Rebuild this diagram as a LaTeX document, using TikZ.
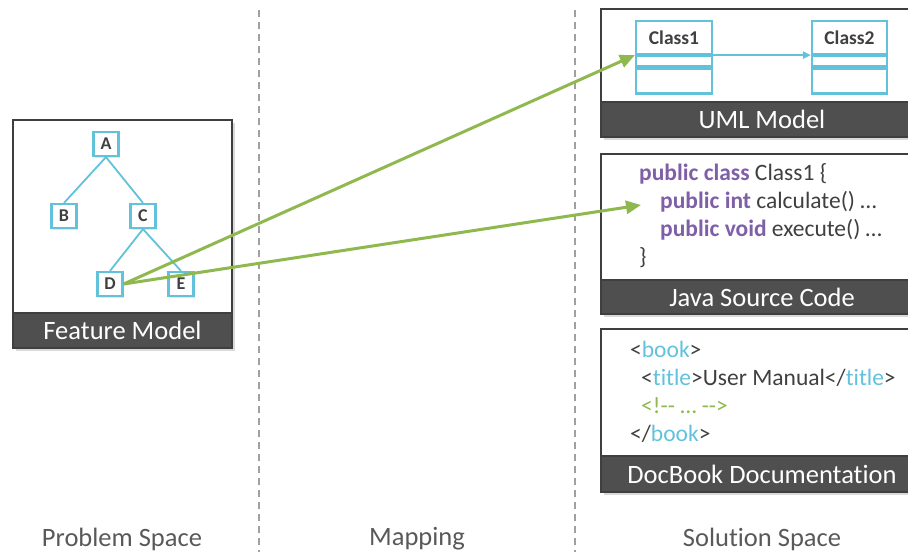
\documentclass[tikz,border=0pt]{standalone}
\usepackage{fontspec}
\setmainfont[Ligatures=NoCommon]{Carlito}
\usetikzlibrary{shadows,arrows.meta}
\definecolor{cblue}{HTML}{62C2DC}
\definecolor{cdark}{HTML}{3F3F3F}
\definecolor{cbar}{HTML}{4F4F4F}
\definecolor{ctext}{HTML}{404040}
\definecolor{cpurple}{HTML}{7F5FA8}
\definecolor{cgreen}{HTML}{8FB84E}
\definecolor{cgray}{HTML}{A0A0A0}
\definecolor{clabel}{HTML}{595959}
\begin{document}
\begin{tikzpicture}[x=1pt,y=-1pt,
  panel/.style={draw=cdark, line width=2pt, fill=white, inner sep=0pt,
    drop shadow={opacity=0.3,shadow xshift=2.5pt,shadow yshift=-2.5pt}},
  bar/.style={fill=cbar, draw=cdark, line width=2pt, text=white, inner sep=0pt,
    anchor=south west, font=\fontsize{26.5}{29}\selectfont},
  feat/.style={draw=cblue, line width=2.2pt, fill=white, minimum width=25pt,
    minimum height=24pt, inner sep=0pt, text=ctext, font=\bfseries\fontsize{18}{20}\selectfont,
    drop shadow={opacity=0.2,shadow xshift=1.5pt,shadow yshift=-1.5pt}},
  tline/.style={draw=cblue, line width=1.8pt},
  cls/.style={draw=cblue, line width=2.2pt, fill=white, minimum width=76pt, inner sep=0pt,
    text=ctext, font=\bfseries\fontsize{19.5}{21}\selectfont},
  code/.style={anchor=west, inner sep=0pt, text=ctext, font=\fontsize{23.5}{26}\selectfont},
  garrow/.style={draw=cgreen, line width=3pt, -{Triangle[length=15pt,width=13pt]}},
  divider/.style={draw=cgray, line width=1.6pt, dash pattern=on 7pt off 5pt},
  space/.style={text=clabel, font=\fontsize{26.5}{29}\selectfont, inner sep=0pt}
]
\useasboundingbox (0,0) rectangle (908,552);

% dividers
\coordinate (d1t) at (259,10); \coordinate (d1b) at (259,552);
\coordinate (d2t) at (575,10); \coordinate (d2b) at (575,552);
\draw[divider] (d1t) -- (d1b);
\draw[divider] (d2t) -- (d2b);

% feature model panel
\node[panel, minimum width=219pt, minimum height=228pt] (fm) at (122.5,234) {};
\node[bar, minimum width=219pt, minimum height=35pt] (fmbar) at (fm.south west) {Feature Model};

\node[feat] (A) at (106,144) {A};
\node[feat] (B) at (64,216) {B};
\node[feat] (C) at (143,216) {C};
\node[feat] (D) at (110,284) {D};
\node[feat] (E) at (181,284) {E};
\draw[tline] (A.south) -- (B.north);
\draw[tline] (A.south) -- (C.north);
\draw[tline] (C.south) -- (D.north);
\draw[tline] (C.south) -- (E.north);

% UML panel
\node[panel, minimum width=322pt, minimum height=128pt] (uml) at (762,73) {};
\node[bar, minimum width=322pt, minimum height=35pt] (umlbar) at (uml.south west) {UML Model};
\node[cls, minimum height=33pt] (c1name) at (674,37.5) {Class1};
\node[cls, minimum height=10pt, anchor=north] (c1mid) at (c1name.south) {};
\node[cls, minimum height=25pt, anchor=north] (c1bot) at (c1mid.south) {};
\node[cls, minimum height=33pt, minimum width=75pt] (c2name) at (849.5,37.5) {Class2};
\node[cls, minimum height=10pt, minimum width=75pt, anchor=north] (c2mid) at (c2name.south) {};
\node[cls, minimum height=25pt, minimum width=75pt, anchor=north] (c2bot) at (c2mid.south) {};
\draw[draw=cblue, line width=2pt, -{Triangle[length=8pt,width=7pt]}] (c1name.south east) -- (c2name.south west);

% Java panel
\node[panel, minimum width=322pt, minimum height=160pt] (java) at (762,234) {};
\node[bar, minimum width=322pt, minimum height=34pt] (javabar) at (java.south west) {Java Source Code};
\node[code] (j1) at (639,175) {\textcolor{cpurple}{\bfseries public class} Class1 \{\strut};
\node[code] (j2) at (660,203) {\textcolor{cpurple}{\bfseries public int} calculate() \dots\strut};
\node[code] (j3) at (660,231) {\textcolor{cpurple}{\bfseries public void} execute() \dots\strut};
\node[code] (j4) at (639,259) {\}\strut};

% DocBook panel
\node[panel, minimum width=322pt, minimum height=163pt] (doc) at (762,410.5) {};
\node[bar, minimum width=322pt, minimum height=36pt] (docbar) at (doc.south west) {DocBook Documentation};
\node[code] (x1) at (630,352) {<\textcolor{cblue}{book}>\strut};
\node[code] (x2) at (641,380) {<\textcolor{cblue}{title}>User Manual</\textcolor{cblue}{title}>\strut};
\node[code, text=cgreen] (x3) at (641,408) {<!-{}- \dots\ -{}->\strut};
\node[code] (x4) at (630,436) {</\textcolor{cblue}{book}>\strut};

% space labels
\node[space] (ps) at (122,539) {Problem Space};
\node[space] (mp) at (417,539) {Mapping};
\node[space] (ss) at (762,539) {Solution Space};

% mapping arrows
\coordinate (jt) at (641,205);
\draw[garrow] (D.east) -- (c1name.south west);
\draw[garrow] (D.east) -- (jt);
\end{tikzpicture}
\end{document}
